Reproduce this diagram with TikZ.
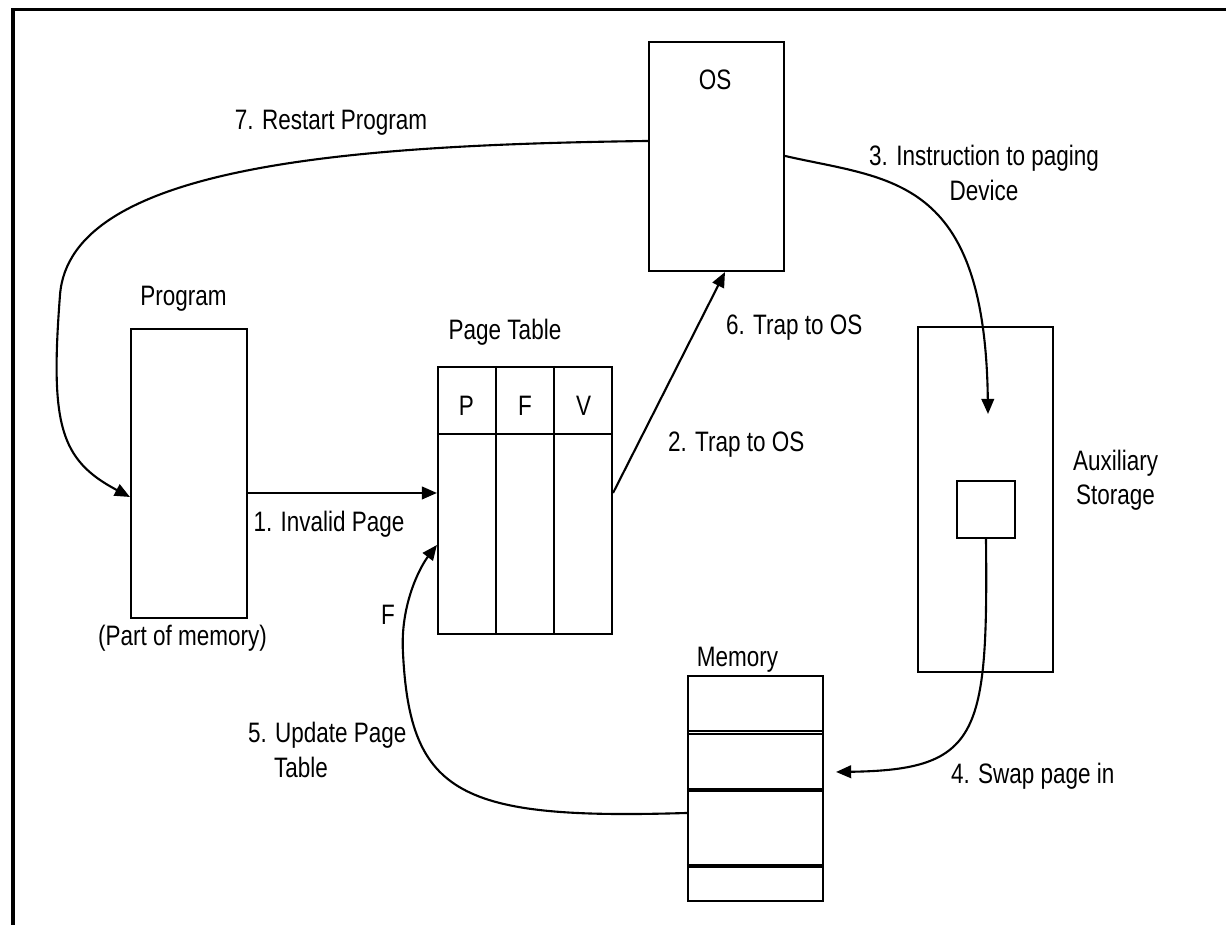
\documentclass[tikz,border=0pt]{standalone}
\usepackage{fontspec}
\setmainfont{Liberation Sans}[FakeStretch=0.8]
\usetikzlibrary{calc, arrows.meta}

\begin{document}
\begin{tikzpicture}[>={Triangle[length=4.3pt,width=3.6pt]}, line width=0.6pt,
    font=\fontsize{8}{9.7}\selectfont,
    block/.style={draw, line width=0.6pt, inner sep=0pt, fill=white},
    txt/.style={inner sep=0pt},
    link/.style={->, line width=0.6pt}]

    % =================================================================
    % 1. KHUNG VA CAC KHOI
    % =================================================================
    \useasboundingbox (0,0) rectangle (12.26,9.25);
    \draw[line width=1pt] (0.13,0) -- (0.13,9.155) -- (12.26,9.155);

    \node[block, minimum width=1.35cm, minimum height=2.29cm] (os)   at (7.165,7.685) {};
    \node[block, minimum width=1.16cm, minimum height=2.89cm] (prog) at (1.89,4.515) {};
    \node[block, minimum width=1.74cm, minimum height=2.67cm] (pt)   at (5.25,4.245) {};
    \node[block, minimum width=1.35cm, minimum height=3.45cm] (aux)  at (9.855,4.255) {};
    \node[block, minimum width=0.58cm, minimum height=0.57cm] (slot) at (9.86,4.155) {};
    \node[block, minimum width=1.35cm, minimum height=2.25cm] (mem)  at (7.555,1.365) {};

    % Dong tieu de va cac cot cua bang trang
    \draw ($(pt.north west)+(0,-0.68)$) -- ($(pt.north east)+(0,-0.68)$);
    \foreach \k in {1,2}
        \draw ($(pt.north west)!\k/3!(pt.north east)$) -- ($(pt.south west)!\k/3!(pt.south east)$);
    \foreach \k/\t in {1/P, 3/F, 5/V}
        \node[txt, anchor=base] (h\t) at ($(pt.north west)!\k/6!(pt.north east) + (0,-0.50)$) {\t};

    % Cac vach chia bo nho
    \foreach \d/\w in {0.557/0.5pt, 0.59/0.5pt, 1.15/0.9pt, 1.91/0.9pt}
        \draw[line width=\w] ($(mem.north west)+(0,-\d)$) -- ($(mem.north east)+(0,-\d)$);

    % =================================================================
    % 2. CAC MUI TEN
    % =================================================================
    \coordinate (auxin) at (9.88,5.11);

    \draw[link] ([yshift=-0.195cm]prog.east) -- ([yshift=0.075cm]pt.west);
    \draw[link] ([yshift=0.075cm]pt.east) -- ([xshift=0.085cm]os.south);
    \draw[link] ([yshift=0.005cm]os.east) .. controls (8.9,7.45) and (9.85,7.5) .. (auxin);
    \draw[link] (slot.south) .. controls (9.88,1.9) and (9.8,1.55) .. ([xshift=0.12cm,yshift=0.165cm]mem.east);
    \draw[link] ([yshift=-0.245cm]mem.west) .. controls (4.6,1.05) and (4.1,1.3) .. (4.03,2.72)
        .. controls (4.0,3.2) and (4.2,3.58) .. ([yshift=-0.445cm]pt.west);
    \draw[link] ([yshift=0.155cm]os.west) .. controls (3.5,7.8) and (0.7,7.6) .. (0.6,6.3)
        .. controls (0.5,5.0) and (0.6,4.65) .. ([yshift=-0.235cm]prog.west);

    % =================================================================
    % 3. NHAN
    % =================================================================
    \node[txt, anchor=base] (ostxt) at (7.15,8.35) {OS};
    \node[txt, anchor=base] (progtxt) at (1.835,6.19) {Program};
    \node[txt, anchor=base] (parttxt) at (1.825,2.79) {(Part of memory)};
    \node[txt, anchor=base] (pttxt) at (5.05,5.85) {Page Table};
    \node[txt, anchor=base] (memtxt) at (7.375,2.58) {Memory};
    \node[txt, anchor=west, align=center] (auxtxt) at (10.72,4.45) {Auxiliary\\Storage};

    \node[txt, anchor=base] (step1) at (3.29,3.93) {1. Invalid Page};
    \node[txt, anchor=base west] (step2) at (6.67,4.73) {2. Trap to OS};
    \node[txt, align=center] (step3) at (9.84,7.52) {3. Instruction to paging\\Device};
    \node[txt, anchor=base west] (step4) at (9.50,1.41) {4. Swap page in};
    \node[txt, anchor=west, align=left] (step5) at (2.47,1.75) {5. Update Page\\\hspace*{0.26cm}Table};
    \node[txt, anchor=base west] (step6) at (7.25,5.90) {6. Trap to OS};
    \node[txt, anchor=base] (step7) at (3.31,7.95) {7. Restart Program};
    \node[txt, anchor=base] (ftxt) at (3.88,3.00) {F};

\end{tikzpicture}
\end{document}
